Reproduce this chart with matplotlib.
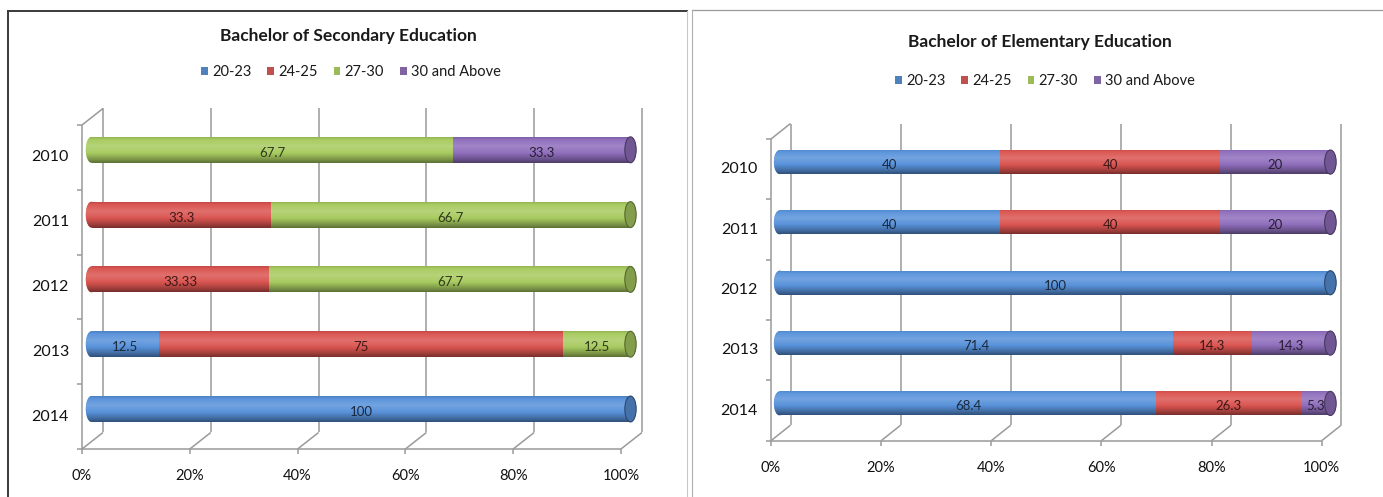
import matplotlib
matplotlib.use('Agg')
import matplotlib.pyplot as plt
from matplotlib.patches import Ellipse, Patch
from matplotlib.lines import Line2D
from matplotlib.colors import to_rgb
import numpy as np

W, H, DPI = 1383, 497, 100
plt.rcParams['font.family'] = ['Lato', 'DejaVu Sans']

years = ['2010', '2011', '2012', '2013', '2014']
age_groups = ['20-23', '24-25', '27-30', '30 and Above']

# Bachelor of Secondary Education, one value per year
sec_20_23 = [0, 0, 0, 12.5, 100]
sec_24_25 = [0, 33.3, 33.33, 75, 0]
sec_27_30 = [67.7, 66.7, 67.7, 12.5, 0]
sec_30_up = [33.3, 0, 0, 0, 0]

# Bachelor of Elementary Education
elem_20_23 = [40, 40, 100, 71.4, 68.4]
elem_24_25 = [40, 40, 0, 14.3, 26.3]
elem_27_30 = [0, 0, 0, 0, 0]
elem_30_up = [20, 20, 0, 14.3, 5.3]

x_ticks = [0, 20, 40, 60, 80, 100]
x_labels = ['0%', '20%', '40%', '60%', '80%', '100%']

legend_colors = ['#4F81BD', '#C0504D', '#9BBB59', '#8064A2']
bar_colors = ['#5892DA', '#DA5551', '#A8CB60', '#8F6EBC']
GRID = '#9a9a9a'
BAR_H = 0.40
CAP_W = 2.1


def shade(c, f):
    c = np.array(to_rgb(c))
    return c + (1 - c) * f if f > 0 else c * (1 + f)


def cylinder_img(c, n=64):
    """vertical gradient, top to bottom, that makes a flat bar look like a tube"""
    t = np.linspace(0, 1, n)
    f = np.interp(t, [0, 0.1, 0.35, 0.6, 0.85, 1.0], [-0.12, 0.02, 0.16, 0.02, -0.25, -0.45])
    return np.array([shade(c, v) for v in f])[:, None, :]


def draw_panel(fig, box, front, depth, title, title_xy, legend_xy, series):
    x0, x1, ytop, ybot = box          # bar plane in pixels (y measured from top)
    n = len(years)
    ax = fig.add_axes([x0 / W, 1 - ybot / H, (x1 - x0) / W, (ybot - ytop) / H])
    ppx = (x1 - x0) / 100.0
    ppy = (ybot - ytop) / n
    fdx, fdy = front[0] / ppx, front[1] / ppy
    bdx, bdy = (front[0] + depth[0]) / ppx, (front[1] + depth[1]) / ppy

    def line(p, q, **kw):
        ax.plot([p[0], q[0]], [p[1], q[1]], color=GRID, lw=1.1, clip_on=False,
                solid_capstyle='butt', zorder=1, **kw)

    lo, hi = -0.5, n - 0.5
    # walls and floor
    for x in x_ticks:
        line((x + bdx, lo + bdy), (x + bdx, hi + bdy))
        line((x + fdx, lo + fdy), (x + bdx, lo + bdy))
        line((x + fdx, lo + fdy), (x + fdx, lo + fdy - 5 / ppy))
        ax.text(x + fdx, lo + fdy - 27 / ppy, x_labels[x_ticks.index(x)], ha='center',
                va='center', fontsize=10.5, color='#111111')
    line((fdx, lo + fdy), (100 + fdx, lo + fdy))
    line((fdx, lo + fdy), (fdx, hi + fdy))
    line((fdx, hi + fdy), (bdx, hi + bdy))
    for yb in np.arange(lo, hi + 0.01, 1.0):
        line((fdx, yb + fdy), (fdx - 5 / ppx, yb + fdy))

    vals = np.array(series, dtype=float)
    shares = vals / vals.sum(axis=0) * 100
    ypos = np.arange(n)[::-1]
    for i, yr in enumerate(years):
        ax.text(fdx - 13 / ppx, ypos[i] + fdy, yr, ha='right', va='center',
                fontsize=11.5, color='#111111')

    lefts = np.zeros(n)
    for j, grp in enumerate(age_groups):
        c = bar_colors[j]
        bars = ax.barh(ypos, shares[j], left=lefts, height=BAR_H, color=c,
                       linewidth=0, zorder=3)
        for rect, w, l, y, v in zip(bars, shares[j], lefts, ypos, vals[j]):
            if w <= 0:
                continue
            im = ax.imshow(cylinder_img(c), extent=(l, l + w, y - BAR_H / 2, y + BAR_H / 2),
                           aspect='auto', interpolation='bilinear', origin='upper', zorder=3.1)
            im.set_clip_path(rect)
            if l == 0:
                # rounded left end of the tube
                ell = Ellipse((0, y), CAP_W, BAR_H, facecolor=c, linewidth=0, zorder=2.9,
                              clip_on=False)
                ax.add_patch(ell)
                im2 = ax.imshow(cylinder_img(c), extent=(-CAP_W, CAP_W, y - BAR_H / 2, y + BAR_H / 2),
                                aspect='auto', interpolation='bilinear', origin='upper', zorder=2.95)
                im2.set_clip_box(fig.bbox)
                im2.set_clip_path(ell)
            ax.text(l + w / 2, y - 3 / ppy, f'{v:g}', ha='center', va='center',
                    fontsize=9.5, color=shade(c, -0.72), zorder=6)
        lefts = lefts + shares[j]

    # end faces of the tubes
    for i, y in enumerate(ypos):
        last = max(j for j in range(len(age_groups)) if vals[j][i] > 0)
        c = bar_colors[last]
        ax.add_patch(Ellipse((100, y), CAP_W, BAR_H, facecolor=shade(c, -0.22),
                             edgecolor=shade(c, -0.5), linewidth=0.8, zorder=5, clip_on=False))

    ax.set_xlim(0, 100)
    ax.set_ylim(lo, hi)
    ax.axis('off')

    fig.text(title_xy[0] / W, 1 - title_xy[1] / H, title, ha='center', va='center',
             fontsize=12.5, fontweight='bold', color='#1a1a1a')
    handles = [Patch(facecolor=legend_colors[k], label=age_groups[k]) for k in range(4)]
    fig.legend(handles=handles, loc='center', bbox_to_anchor=(legend_xy[0] / W, 1 - legend_xy[1] / H),
               ncol=4, frameon=False, fontsize=10.5, handlelength=0.45, handleheight=0.5,
               handletextpad=0.3, columnspacing=1.1, borderpad=0, borderaxespad=0,
               labelcolor='#1a1a1a')
    return ax


fig = plt.figure(figsize=(W / DPI, H / DPI), dpi=DPI)

# panel borders
def fline(xs, ys, **kw):
    fig.add_artist(Line2D([x / W for x in xs], [1 - y / H for y in ys], transform=fig.transFigure, **kw))

fline([8, 687], [11, 11], color='#3a3a3a', lw=1.4)
fline([8, 8], [11, 497], color='#3a3a3a', lw=1.4)
fline([687, 687], [11, 497], color='#c8c8c8', lw=0.8)
fline([692, 1383], [10, 10], color='#9a9a9a', lw=0.9)
fline([692, 692], [10, 497], color='#b0b0b0', lw=0.8)

draw_panel(fig, (91.5, 630.5, 117.4, 441.4), (-9.5, -7.6), (21, 16.5),
           'Bachelor of Secondary Education', (348, 36), (351, 72),
           [sec_20_23, sec_24_25, sec_27_30, sec_30_up])
draw_panel(fig, (779.7, 1330.4, 131.9, 433.6), (-8.7, -7.1), (19.5, 15.5),
           'Bachelor of Elementary Education', (1040, 42), (1045, 81),
           [elem_20_23, elem_24_25, elem_27_30, elem_30_up])

fig.savefig('out.png', dpi=DPI)
